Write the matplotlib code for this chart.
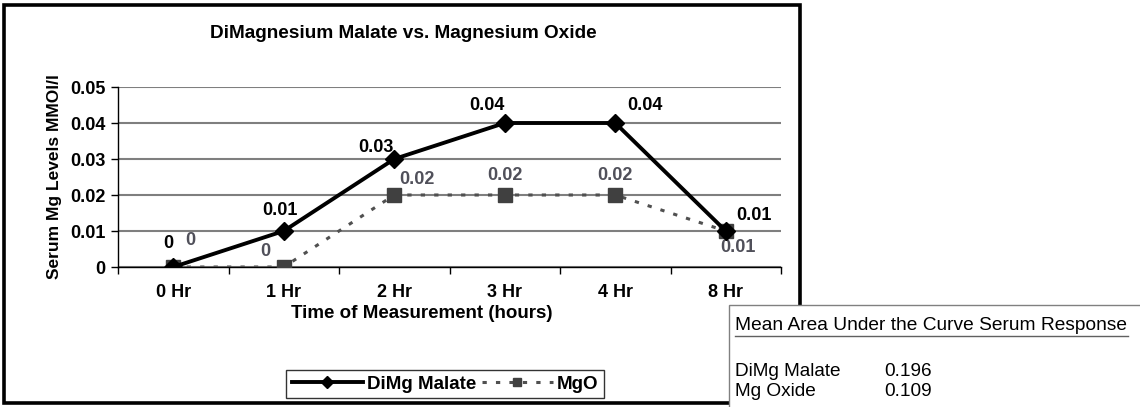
import matplotlib
matplotlib.use('Agg')
import matplotlib.pyplot as plt
from matplotlib.patches import Rectangle
from matplotlib.lines import Line2D

## Data
hours = ['0 Hr', '1 Hr', '2 Hr', '3 Hr', '4 Hr', '8 Hr']
dimg_malate = [0, 0.01, 0.03, 0.04, 0.04, 0.01]
mg_oxide = [0, 0, 0.02, 0.02, 0.02, 0.01]
auc_names = ['DiMg Malate', 'Mg Oxide']
auc_values = [0.196, 0.109]

## Label offsets in pixels (dx, dy)
DIMG_OFFSETS = [(-5, 24), (-4, 21), (-18, 11), (-18, 17), (30, 17), (28, 16)]
MGO_OFFSETS = [(17, 27), (-18, 15), (23, 16), (0, 20), (0, 20), (12, -16)]

plt.rcParams['font.family'] = ['Liberation Sans', 'DejaVu Sans']

W, H = 1140, 407
fig = plt.figure(figsize=(W / 100, H / 100), dpi=100)

def fx(px):
  return px / W

def fy(py):
  return 1 - py / H

## Outer chart frame
fig.patches.append(Rectangle((fx(4), fy(403)), fx(796) - fx(0), fy(5) - fy(403),
                             transform=fig.transFigure, fill=False, edgecolor='black', lw=2.6, zorder=0))
fig.lines.append(Line2D([fx(800), fx(800)], [fy(6), fy(404)], transform=fig.transFigure,
                        color='black', lw=1.5, zorder=0))

ax = fig.add_axes([fx(118), fy(267), fx(781) - fx(118), fy(87) - fy(267)])
x = list(range(len(hours)))

ax.plot(x, mg_oxide, color='#505050', lw=2.2, dashes=(1.4, 3), marker='s', markersize=10.5,
        markerfacecolor='#404040', markeredgecolor='#404040', label='MgO', zorder=3)
ax.plot(x, dimg_malate, color='black', lw=2.8, marker='D', markersize=9,
        markerfacecolor='black', markeredgecolor='black', label='DiMg Malate', zorder=4)

for i in x:
  ax.annotate(f'{dimg_malate[i]:g}', (i, dimg_malate[i]), xytext=DIMG_OFFSETS[i], textcoords='offset pixels',
              ha='center', va='center', fontsize=13, weight='bold', color='black')
  ax.annotate(f'{mg_oxide[i]:g}', (i, mg_oxide[i]), xytext=MGO_OFFSETS[i], textcoords='offset pixels',
              ha='center', va='center', fontsize=13, weight='bold', color='#50505a')

ax.set_xlim(-0.5, len(hours) - 0.5)
ax.set_ylim(0, 0.05)
ax.set_yticks([0, 0.01, 0.02, 0.03, 0.04, 0.05])
ax.set_yticklabels(['0', '0.01', '0.02', '0.03', '0.04', '0.05'], fontsize=13, weight='bold')
ax.set_xticks(x)
ax.set_xticklabels(hours, fontsize=13, weight='bold')
ax.set_xticks([i - 0.5 for i in range(len(hours) + 1)], minor=True)
ax.tick_params(axis='x', which='major', length=0, pad=12)
ax.tick_params(axis='x', which='minor', length=5, direction='out', width=1)
ax.tick_params(axis='y', length=5, direction='out', width=1, pad=4)
ax.grid(axis='y', color='#7f7f7f', lw=1.5)
ax.set_axisbelow(True)
for side in ['top', 'right']:
  ax.spines[side].set_visible(False)
for side in ['left', 'bottom']:
  ax.spines[side].set_linewidth(1)

ax.set_xlabel('Time of Measurement (hours)', fontsize=13.5, weight='bold', labelpad=0)
ax.xaxis.set_label_coords((422 - 118) / (781 - 118), -(314 - 267) / (267 - 87), transform=ax.transAxes)
ax.xaxis.label.set_va('center')
ax.set_ylabel('Serum Mg Levels MMOl/l', fontsize=12.5, weight='bold', labelpad=6)

fig.text(fx(403), fy(33), 'DiMagnesium Malate vs. Magnesium Oxide', ha='center', va='center',
         fontsize=13.7, weight='bold')

## Legend
handles = [Line2D([], [], color='black', lw=2.8, marker='D', markersize=6),
           Line2D([], [], color='#505050', lw=2.2, dashes=(1.4, 3), marker='s', markersize=6,
                  markerfacecolor='#404040', markeredgecolor='#404040')]
leg = fig.legend(handles, ['DiMg Malate', 'MgO'], loc='center', bbox_to_anchor=(fx(445), fy(384)),
                 ncol=2, frameon=True, fancybox=False, edgecolor='black', handlelength=3.8,
                 handletextpad=0.2, columnspacing=0.3, borderpad=0.3, prop={'weight': 'bold', 'size': 13.5})
leg.get_frame().set_linewidth(1)

## Area under the curve box
fig.patches.append(Rectangle((fx(729), fy(420)), fx(1160) - fx(729), fy(305) - fy(420),
                             transform=fig.transFigure, facecolor='white', edgecolor='#808080', lw=1, zorder=5))
fig.text(fx(735), fy(326), 'Mean Area Under the Curve Serum Response', ha='left', va='center',
         fontsize=13.8, zorder=6)
fig.lines.append(Line2D([fx(735), fx(1128)], [fy(336), fy(336)], transform=fig.transFigure,
                        color='#606060', lw=1, zorder=6))
for k, name in enumerate(auc_names):
  fig.text(fx(735), fy(372 + 19 * k), name, ha='left', va='center', fontsize=13.7, zorder=6)
  fig.text(fx(884), fy(372 + 19 * k), f'{auc_values[k]:.3f}', ha='left', va='center', fontsize=13.7, zorder=6)

fig.savefig('out.png', dpi=100)
